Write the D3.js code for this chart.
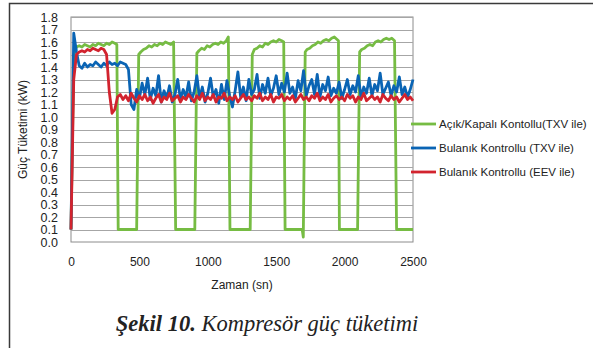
<!DOCTYPE html>
<html><head><meta charset="utf-8">
<script src="https://cdn.jsdelivr.net/npm/d3@7"></script>
<style>
html,body{margin:0;padding:0;background:#fff;}
svg{display:block;}
</style></head>
<body>
<svg id="c" width="593" height="348"></svg>
<script>
// ---- data ----
const yTicks = [0.0,0.1,0.2,0.3,0.4,0.5,0.6,0.7,0.8,0.9,1.0,1.1,1.2,1.3,1.4,1.5,1.6,1.7,1.8];
const xTicks = [0,500,1000,1500,2000,2500];
const seriesNames = ["Açık/Kapalı Kontollu(TXV ile)","Bulanık Kontrollu (TXV ile)","Bulanık Kontrollu (EEV ile)"];
const seriesColors = ["#76bc43","#0a64b4","#d2232e"];

const greenTime = [0,20,40,60,80,100,120,140,160,180,200,220,240,260,280,300,320,335,345,
  480,495,510,530,550,570,590,610,630,650,670,690,710,730,750,765,
  905,920,935,955,975,995,1015,1035,1055,1075,1095,1115,1135,1150,1162,
  1310,1325,1340,1360,1380,1400,1420,1440,1460,1480,1500,1520,1540,1555,1565,
  1690,1698,1712,1725,1745,1765,1785,1805,1825,1845,1865,1885,1905,1925,1945,1955,1962,
  2095,2110,2125,2145,2165,2185,2205,2225,2245,2265,2285,2305,2325,2345,2365,2380,
  2500];
const greenVal = [0.10,1.50,1.56,1.57,1.56,1.58,1.57,1.56,1.58,1.57,1.59,1.58,1.57,1.59,1.58,1.60,1.59,1.58,0.10,
  0.10,1.50,1.52,1.54,1.55,1.57,1.56,1.58,1.57,1.59,1.58,1.60,1.59,1.58,1.60,0.10,
  0.10,1.51,1.53,1.55,1.54,1.57,1.56,1.58,1.59,1.58,1.60,1.59,1.61,1.64,0.10,
  0.10,1.50,1.54,1.55,1.57,1.56,1.59,1.58,1.60,1.61,1.60,1.62,1.61,1.60,0.10,
  0.10,0.04,1.52,1.54,1.55,1.57,1.58,1.60,1.59,1.61,1.62,1.61,1.63,1.64,1.62,1.61,0.10,
  0.10,1.52,1.54,1.55,1.57,1.58,1.57,1.60,1.61,1.60,1.62,1.63,1.62,1.63,1.61,0.10,
  0.10];

const sampleTime = d3.range(0, 2501, 20);
const blueVal = [0.10,1.67,1.52,1.41,1.39,1.43,1.40,1.42,1.41,1.44,1.42,1.40,1.43,1.41,1.44,1.42,1.43,1.41,1.44,1.43,
  1.42,1.38,1.10,1.06,1.22,1.15,1.27,1.18,1.31,1.14,1.23,1.17,1.33,1.12,1.21,1.15,1.25,1.12,1.18,1.30,
  1.14,1.22,1.16,1.28,1.13,1.20,1.33,1.15,1.24,1.12,1.19,1.31,1.16,1.22,1.11,1.26,1.14,1.29,1.17,1.08,
  1.21,1.36,1.16,1.24,1.13,1.30,1.18,1.22,1.34,1.15,1.26,1.19,1.31,1.17,1.23,1.33,1.18,1.27,1.20,1.35,
  1.19,1.24,1.15,1.29,1.21,1.37,1.17,1.25,1.30,1.18,1.34,1.16,1.26,1.21,1.32,1.17,1.23,1.19,1.28,1.15,
  1.22,1.30,1.18,1.25,1.20,1.33,1.16,1.24,1.19,1.31,1.17,1.26,1.21,1.35,1.18,1.23,1.28,1.17,1.25,1.20,
  1.32,1.18,1.24,1.16,1.22,1.30];
const redVal = [0.10,1.30,1.50,1.52,1.53,1.52,1.54,1.53,1.55,1.54,1.53,1.55,1.54,1.50,1.20,1.03,1.06,1.16,1.18,1.14,
  1.17,1.13,1.19,1.15,1.12,1.17,1.14,1.18,1.13,1.16,1.11,1.15,1.18,1.12,1.16,1.14,1.19,1.13,1.15,1.17,
  1.12,1.16,1.14,1.18,1.15,1.12,1.17,1.14,1.19,1.13,1.16,1.14,1.18,1.12,1.16,1.15,1.19,1.13,1.16,1.14,
  1.17,1.12,1.15,1.18,1.14,1.16,1.13,1.17,1.15,1.19,1.13,1.16,1.14,1.18,1.12,1.16,1.15,1.18,1.13,1.16,
  1.14,1.17,1.12,1.15,1.18,1.14,1.16,1.13,1.17,1.15,1.19,1.13,1.16,1.14,1.18,1.12,1.15,1.17,1.14,1.16,
  1.13,1.18,1.15,1.17,1.12,1.16,1.14,1.19,1.13,1.15,1.17,1.14,1.16,1.12,1.18,1.15,1.13,1.17,1.14,1.16,
  1.12,1.15,1.18,1.14,1.16,1.13];

// ---- layout ----
const svg = d3.select("#c");
const P = {l:71, r:413, t:17, b:242};
const x = d3.scaleLinear().domain([0,2500]).range([P.l,P.r]);
const y = d3.scaleLinear().domain([0,1.8]).range([P.b,P.t]);

// figure frame
svg.append("path").attr("d","M9.5,348 L9.5,3.5 L593,3.5").attr("fill","none").attr("stroke","#3a3a3a").attr("stroke-width",1.5);

// plot area
svg.append("rect").attr("x",P.l).attr("y",P.t).attr("width",P.r-P.l).attr("height",P.b-P.t)
  .attr("fill","#fff").attr("stroke","#8c8c8c").attr("stroke-width",1);

// grid
svg.append("g").selectAll("line").data(yTicks.slice(1)).join("line")
  .attr("x1",P.l).attr("x2",P.r).attr("y1",d=>Math.round(y(d))+0.5).attr("y2",d=>Math.round(y(d))+0.5)
  .attr("stroke","#a6a6a6").attr("stroke-width",1);

// axes (labels only)
const yAxis = d3.axisLeft(y).tickValues(yTicks).tickFormat(d3.format(".1f")).tickSize(0).tickPadding(13);
const gy = svg.append("g").attr("transform",`translate(${P.l},0)`).call(yAxis);
gy.select(".domain").remove();
gy.selectAll("text").attr("font-family","Liberation Sans, Arial, sans-serif").attr("font-size","12.5px").attr("fill","#222");

const xAxis = d3.axisBottom(x).tickValues(xTicks).tickFormat(d3.format("d")).tickSize(0).tickPadding(15);
const gx = svg.append("g").attr("transform",`translate(0,${P.b})`).call(xAxis);
gx.select(".domain").remove();
gx.selectAll("text").attr("font-family","Liberation Sans, Arial, sans-serif").attr("font-size","12px").attr("fill","#222");

// axis titles
svg.append("text").attr("x",(P.l+P.r)/2).attr("y",289).attr("text-anchor","middle")
  .attr("font-family","Liberation Sans, Arial, sans-serif").attr("font-size","12px").attr("fill","#222").text("Zaman (sn)");
svg.append("text").attr("transform",`translate(27,${(P.t+P.b)/2}) rotate(-90)`).attr("text-anchor","middle")
  .attr("font-family","Liberation Sans, Arial, sans-serif").attr("font-size","12px").attr("fill","#222").text("Güç Tüketimi (kW)");

// lines
const line = d3.line().x(d=>x(d[0])).y(d=>y(d[1]));
const greenData = greenTime.map((t,i)=>[t,greenVal[i]]);
const blueData = sampleTime.map((t,i)=>[t,blueVal[i]]);
const redData = sampleTime.map((t,i)=>[t,redVal[i]]);
[[greenData,0],[blueData,1],[redData,2]].forEach(([d,i])=>{
  svg.append("path").datum(d).attr("d",line).attr("fill","none")
    .attr("stroke",seriesColors[i]).attr("stroke-width",2.8).attr("stroke-linejoin","round");
});

// legend
const legY = [124,148,172];
seriesNames.forEach((n,i)=>{
  svg.append("line").attr("x1",411).attr("x2",436).attr("y1",legY[i]).attr("y2",legY[i])
    .attr("stroke",seriesColors[i]).attr("stroke-width",2.8);
  svg.append("text").attr("x",439).attr("y",legY[i]+4).attr("font-family","Liberation Sans, Arial, sans-serif")
    .attr("font-size","11.5px").attr("fill","#222").text(n);
});

// caption
const cap = svg.append("text").attr("x",267).attr("y",331).attr("text-anchor","middle")
  .attr("font-family","Liberation Serif, Times New Roman, serif").attr("font-size","22.5px").attr("fill","#222");
cap.append("tspan").attr("font-weight","bold").attr("font-style","italic").text("Şekil 10.");
cap.append("tspan").attr("font-style","italic").text(" Kompresör güç tüketimi");
</script>
</body></html>
